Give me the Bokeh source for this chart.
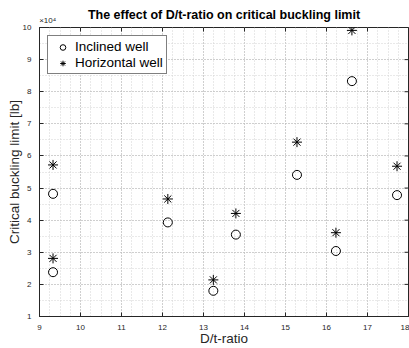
import numpy as np
from bokeh.plotting import figure
from bokeh.models import FixedTicker, LinearAxis, Range1d, Legend, LegendItem
from bokeh.embed import file_html
from bokeh.resources import INLINE

# D/t-ratio of each case and the critical buckling limit [lb]
dt_ratio = [9.33, 9.33, 12.13, 13.24, 13.79, 15.28, 16.23, 16.62, 17.72]
inclined_well = [48200, 23800, 39300, 18000, 35500, 54100, 30400, 83300, 47800]
horizontal_well = [57200, 28100, 46600, 21400, 42100, 64300, 36100, 99100, 56800]

x_ticks = list(range(9, 19))
y_ticks = [10000 * k for k in range(1, 11)]
y_tick_labels = [str(k) for k in range(1, 11)]

TITLE = "The effect of D/t-ratio on critical buckling limit"
MULTIPLIER = "×10⁴"

X_MIN, X_MAX = 9, 18
Y_MIN, Y_MAX = 10000, 100000

FONT = "Liberation Sans"
AX = "#262626"

p = figure(width=409, height=348, output_backend="svg", toolbar_location=None,
           x_range=Range1d(X_MIN, X_MAX), y_range=Range1d(Y_MIN, Y_MAX),
           min_border_left=39, min_border_right=1, min_border_top=27,
           min_border_bottom=0)

x_ticker = FixedTicker(ticks=x_ticks, minor_ticks=list(np.arange(9, 18.001, 0.25)))
y_ticker = FixedTicker(ticks=y_ticks, minor_ticks=list(np.arange(10000, 100001, 5000)))

for ax in (p.xaxis[0], p.yaxis[0]):
    ax.axis_line_color = AX
    ax.axis_line_width = 1
    ax.major_tick_line_color = AX
    ax.major_tick_in = 4
    ax.major_tick_out = 0
    ax.minor_tick_line_color = None
    ax.major_label_text_font = FONT
    ax.major_label_text_font_size = "8px"
    ax.major_label_text_color = AX
    ax.major_label_standoff = 4
    ax.axis_label_text_font = FONT
    ax.axis_label_text_font_size = "13.5px"
    ax.axis_label_text_font_style = "normal"
    ax.axis_label_text_color = AX

p.xaxis.ticker = x_ticker
p.yaxis.ticker = y_ticker
p.yaxis.major_label_overrides = {t: s for t, s in zip(y_ticks, y_tick_labels)}
p.xaxis.axis_label = "D/t-ratio"
p.yaxis.axis_label = "Critical buckling limit [lb]"
p.xaxis.axis_label_standoff = -2
p.yaxis.axis_label_standoff = -2

# header strip above the box: the ×10⁴ multiplier sits over the left end
# of the x range, the bold heading is centred over the whole box
mult_x = X_MIN + 0.2
header = LinearAxis(ticker=FixedTicker(ticks=[mult_x]),
                    major_label_overrides={mult_x: MULTIPLIER},
                    axis_label=TITLE)
header.axis_line_color = None
header.major_tick_line_color = None
header.minor_tick_line_color = None
header.major_tick_in = 0
header.major_tick_out = 0
header.major_label_standoff = 3
header.major_label_text_font = FONT
header.major_label_text_font_size = "8px"
header.major_label_text_color = AX
header.axis_label_text_font = FONT
header.axis_label_text_font_size = "12.5px"
header.axis_label_text_font_style = "bold"
header.axis_label_text_color = "black"
header.axis_label_standoff = -9
p.add_layout(header, "above")

p.outline_line_color = AX
p.outline_line_width = 1

for g in (p.xgrid[0], p.ygrid[0]):
    g.grid_line_color = "#b4b4b4"
    g.grid_line_dash = "1 2"
    g.minor_grid_line_color = "#d2d2d2"
    g.minor_grid_line_dash = "1 2"

# inward tick marks along the top and right edges of the box
p.scatter(x_ticks, [Y_MAX] * len(x_ticks), marker="dash", angle=np.pi / 2,
          size=8, line_color=AX, line_width=1)
p.scatter([X_MAX] * len(y_ticks), y_ticks, marker="dash",
          size=8, line_color=AX, line_width=1)

r_inc = p.scatter(dt_ratio, inclined_well, marker="circle", size=9,
                  fill_color=None, line_color="black", line_width=1)
r_hor = p.scatter(dt_ratio, horizontal_well, marker="asterisk", size=10,
                  line_color="black", line_width=1)

legend = Legend(items=[LegendItem(label="Inclined well", renderers=[r_inc]),
                       LegendItem(label="Horizontal well", renderers=[r_hor])],
                location="top_left")
legend.margin = 8
legend.padding = 3
legend.spacing = 1
legend.glyph_width = 23
legend.glyph_height = 14
legend.label_height = 14
legend.label_standoff = 1
legend.label_text_font = FONT
legend.label_text_font_size = "13.5px"
legend.label_text_color = "black"
legend.border_line_color = "black"
legend.border_line_width = 1
legend.background_fill_alpha = 1
p.add_layout(legend, "center")

open("out.html", "w").write(file_html(p, INLINE))
